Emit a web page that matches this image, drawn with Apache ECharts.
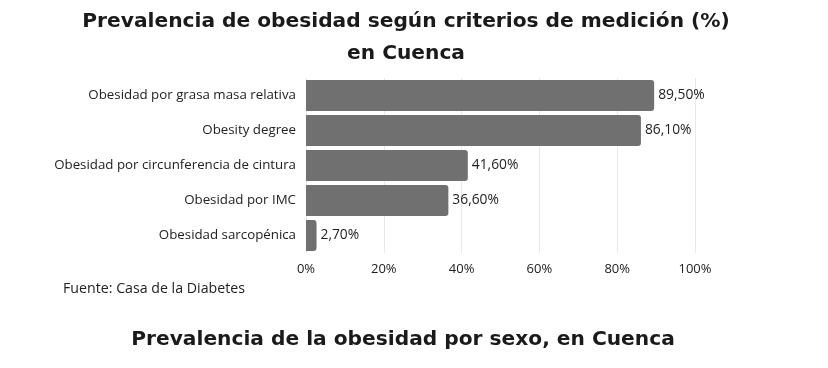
<!DOCTYPE html>
<html><head><meta charset="utf-8">
<script src="https://cdn.jsdelivr.net/npm/echarts@6/dist/echarts.min.js"></script>
<style>html,body{margin:0;padding:0;background:#fff}#c{width:828px;height:368px}</style>
</head><body><div id="c"></div>
<script>
const categories = ["Obesidad por grasa masa relativa","Obesity degree","Obesidad por circunferencia de cintura","Obesidad por IMC","Obesidad sarcopénica"];
const values = [89.5, 86.1, 41.6, 36.6, 2.7];
const xTicks = [0, 20, 40, 60, 80, 100];
const titleLines = ["Prevalencia de obesidad según criterios de medición (%)", "en Cuenca"];
const sourceText = "Fuente: Casa de la Diabetes";
const subTitle = "Prevalencia de la obesidad por sexo, en Cuenca";

const chart = echarts.init(document.getElementById('c'), null, {renderer:'canvas'});
const fontFam = '"Open Sans", Lato, sans-serif';
const titleFam = '"DejaVu Sans", sans-serif';
chart.setOption({
  animation:false,
  backgroundColor:'#fff',
  title:[
    {text:titleLines.join('\n'), left:401, textAlign:'center', top:1,
     textStyle:{fontFamily:titleFam, fontWeight:'bold', fontSize:20.2, color:'#1a1a1a', lineHeight:32}},
    {text:sourceText, left:58, top:277,
     textStyle:{fontFamily:fontFam, fontWeight:'normal', fontSize:14.2, color:'#222'}},
    {text:subTitle, left:398, textAlign:'center', top:325,
     textStyle:{fontFamily:titleFam, fontWeight:'bold', fontSize:20.2, color:'#1a1a1a'}}
  ],
  grid:{left:306, right:133, top:78, height:175, containLabel:false},
  xAxis:{type:'value', min:xTicks[0], max:xTicks[xTicks.length-1], interval:20,
    axisLine:{show:false}, axisTick:{show:false},
    splitLine:{show:true, lineStyle:{color:'#e8e8e8', width:1}},
    axisLabel:{formatter:v=>v+'%', color:'#222', fontFamily:fontFam, fontSize:13, margin:10}},
  yAxis:{type:'category', data:categories, inverse:true,
    axisLine:{show:false}, axisTick:{show:false},
    axisLabel:{color:'#222', fontFamily:fontFam, fontSize:13.3, margin:10}},
  series:[{type:'bar', data:values, barCategoryGap:'11%',
    itemStyle:{color:'#707070', borderRadius:[0,3,3,0]},
    label:{show:true, position:'right', distance:4, color:'#222', fontFamily:fontFam, fontSize:13.8,
      formatter:p=>p.value.toFixed(2).replace('.',',')+'%'}}]
});
</script></body></html>
